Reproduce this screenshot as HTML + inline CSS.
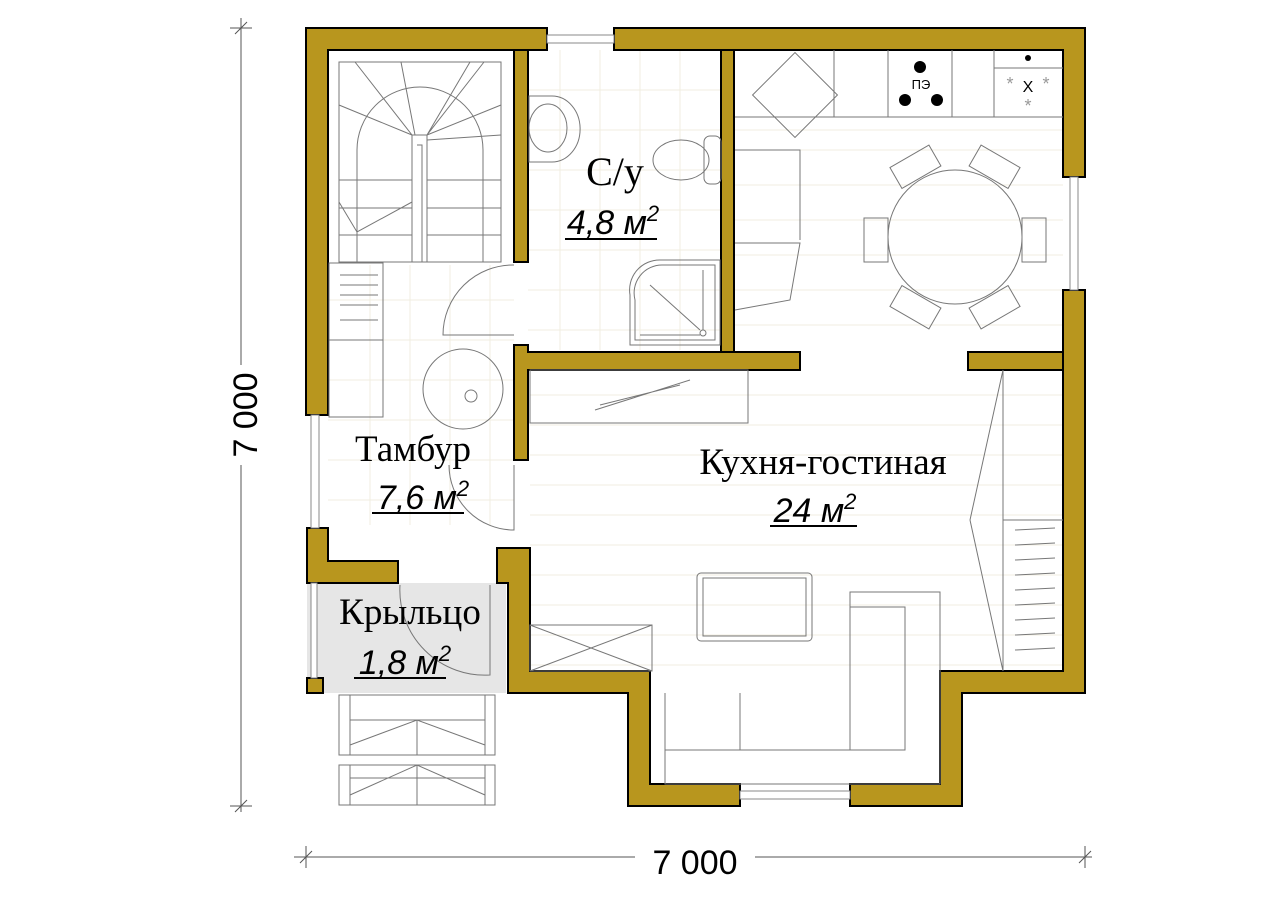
<!DOCTYPE html>
<html><head><meta charset="utf-8"><style>
html,body{margin:0;padding:0;background:#fff;}
svg{display:block}
.w{fill:#B8961E;stroke:#000;stroke-width:2}
.f{fill:none;stroke:#777;stroke-width:1}
.t{font-family:"Liberation Serif",serif;fill:#000}
.a{font-family:"Liberation Sans",sans-serif;font-style:italic;fill:#000}
</style></head><body>
<svg width="1280" height="905" viewBox="0 0 1280 905" xmlns="http://www.w3.org/2000/svg">
<rect x="328" y="50" width="735" height="305" fill="#fff"/>
<rect x="307" y="583" width="199" height="110" fill="#e6e6e6"/>
<g stroke="#f0ede0" stroke-width="1">
<path d="M735 130H1063M735 150H1063M735 185H1063M735 220H1063M735 255H1063M735 290H1063M735 325H1063"/>
<path d="M530 395H1063M530 425H1063M530 455H1063M530 485H1063M530 515H1063M530 545H1063M530 575H1063M530 605H1063M530 635H1063M530 665H1063"/>
<path d="M560 50V350M600 50V350M640 50V350M680 50V350M528 90H720M528 130H720M528 170H720M528 210H720M528 250H720M528 290H720M528 330H720"/>
<path d="M370 265V525M410 265V525M450 265V525M490 265V525M328 300H514M328 340H514M328 380H514M328 420H514M328 460H514M328 500H514"/>
</g>
<path class="w" d="M306 28H547V50H328V415H306Z"/>
<path class="w" d="M614 28H1085V177H1063V50H614Z"/>
<path class="w" d="M1063 290H1085V693H962V806H850V784H940V671H1063Z"/>
<path class="w" d="M740 784V806H628V693H508V583H497V548H530V671H650V784Z"/>
<path class="w" d="M307 528H328V561H398V583H307Z"/>
<rect class="w" x="307" y="678" width="16" height="15"/>
<rect class="w" x="514" y="50" width="14" height="212"/>
<rect class="w" x="721" y="50" width="13" height="302"/>
<path class="w" d="M514 345H528V352H800V370H528V460H514Z"/>
<rect class="w" x="968" y="352" width="95" height="18"/>
<rect x="547" y="35" width="67" height="8" fill="#fff" stroke="#888"/>
<rect x="1070" y="177" width="8" height="113" fill="#fff" stroke="#888"/>
<rect x="740" y="791" width="110" height="8" fill="#fff" stroke="#888"/>
<rect x="311" y="415" width="8" height="113" fill="#fff" stroke="#888"/>
<rect x="311" y="583" width="6" height="95" fill="#fff" stroke="#888"/>
<g class="f">
<rect x="339" y="62" width="162" height="200"/>
<path d="M357 181V150A63 63 0 0 1 483 150V262M357 150V262"/>
<path d="M412 135H427V262H412ZM417 145H422V262"/>
<path d="M339 180H412M427 180H501M339 208H412M427 208H501M339 235H412M427 235H501"/>
<path d="M355 62L412 135M401 62L415 135M470 62L427 135M484 62L427 135M339 105L412 135M501 105L427 135M501 135L427 140M339 202L357 232L412 202"/>
<rect x="329" y="263" width="54" height="154"/>
<path d="M329 340H383M340 275H378M340 285H378M340 295H378M340 305H378M340 320H378"/>
</g>
<g class="f">
<path d="M514 265A70 70 0 0 0 443 335H514"/>
<path d="M514 465V530A65 65 0 0 1 449 465"/>
<path d="M400 585A85 85 0 0 0 490 675V585"/>
<circle cx="463" cy="389" r="40"/><circle cx="471" cy="396" r="6"/>
</g>
<g class="f">
<path d="M529 96H552A23 27 0 0 1 552 162H529Z"/><ellipse cx="548" cy="128" rx="19" ry="24"/>
<ellipse cx="681" cy="160" rx="28" ry="20"/><rect x="704" y="136" width="17" height="48" rx="6"/>
<path d="M630 345V295A30 30 0 0 1 660 260H720V345Z"/><path d="M635 340V300A28 28 0 0 1 662 265H715V340Z"/>
<path d="M650 285L700 330M640 335H700M703 270V330"/><circle cx="703" cy="333" r="3"/>
</g>
<g class="f">
<path d="M735 117H1063M834 50V117M888 50V117M952 50V117M994 50V117M994 68H1063"/>
<rect x="765" y="65" width="60" height="60" transform="rotate(45 795 95)"/>
<path d="M735 150H800V240M735 243H800L790 300L735 310"/>
<circle cx="955" cy="237" r="67"/>
<rect x="864" y="218" width="24" height="44"/><rect x="1022" y="218" width="24" height="44"/>
<rect x="893" y="155" width="45" height="24" transform="rotate(-30 915 167)"/>
<rect x="972" y="155" width="45" height="24" transform="rotate(30 995 167)"/>
<rect x="893" y="295" width="45" height="24" transform="rotate(30 915 307)"/>
<rect x="972" y="295" width="45" height="24" transform="rotate(-30 995 307)"/>
<rect x="530" y="370" width="218" height="53"/>
<path d="M595 410L690 380M600 405L680 385"/>
<path d="M1003 370V671M1003 520H1063M970 520L1003 370M970 520L1003 671"/>
<path d="M1015 530L1055 528M1015 545L1055 543M1015 560L1055 558M1015 575L1055 573M1015 590L1055 588M1015 605L1055 603M1015 620L1055 618M1015 635L1055 633M1015 650L1055 648"/>
<rect x="697" y="573" width="115" height="68" rx="4"/><rect x="703" y="578" width="103" height="58"/>
<rect x="530" y="625" width="122" height="46"/><path d="M530 625L652 671M652 625L530 671"/>
<path d="M850 592H940V784H665V750H905V607H850Z"/>
<path d="M665 693V784M740 693V750M850 592V750"/>
</g>
<g fill="#000"><circle cx="920" cy="67" r="6"/><circle cx="905" cy="100" r="6"/><circle cx="937" cy="100" r="6"/><circle cx="1028" cy="58" r="3"/></g>
<text x="921" y="89" font-family="Liberation Sans,sans-serif" font-size="13" text-anchor="middle">ПЭ</text>
<text x="1028" y="92" font-family="Liberation Sans,sans-serif" font-size="16" text-anchor="middle">X</text>
<text x="1028" y="112" font-family="Liberation Sans,sans-serif" font-size="18" fill="#999" text-anchor="middle">*</text>
<text x="1010" y="90" font-family="Liberation Sans,sans-serif" font-size="18" fill="#999" text-anchor="middle">*</text>
<text x="1046" y="90" font-family="Liberation Sans,sans-serif" font-size="18" fill="#999" text-anchor="middle">*</text>
<g class="f">
<rect x="339" y="695" width="156" height="60"/><path d="M350 695V755M485 695V755M350 720H485M350 745L417 720L485 745M417 720V755"/>
<rect x="339" y="765" width="156" height="40"/><path d="M350 765V805M485 765V805M350 778H485M350 795L417 765L485 795M417 765V805"/>
</g>
<text class="t" x="615" y="185" font-size="40" text-anchor="middle">С/у</text>
<text class="a" x="613" y="234" font-size="34" text-anchor="middle">4,8 м<tspan font-size="22" dy="-13">2</tspan></text>
<rect x="565" y="238" width="92" height="2"/>
<text class="t" x="413" y="461" font-size="37" text-anchor="middle">Тамбур</text>
<text class="a" x="423" y="509" font-size="34" text-anchor="middle">7,6 м<tspan font-size="22" dy="-13">2</tspan></text>
<rect x="372" y="512" width="92" height="2"/>
<text class="t" x="823" y="474" font-size="37" text-anchor="middle">Кухня-гостиная</text>
<text class="a" x="815" y="522" font-size="34" text-anchor="middle">24 м<tspan font-size="22" dy="-13">2</tspan></text>
<rect x="770" y="525" width="87" height="2"/>
<text class="t" x="410" y="624" font-size="37" text-anchor="middle">Крыльцо</text>
<text class="a" x="405" y="674" font-size="34" text-anchor="middle">1,8 м<tspan font-size="22" dy="-13">2</tspan></text>
<rect x="354" y="677" width="92" height="2"/>
<g stroke="#555" stroke-width="1">
<path d="M241 18V812M230 28H252M230 806H252M235 34L247 22M235 812L247 800"/>
<path d="M294 857H1092M306 846V868M1085 846V868M300 863L312 851M1079 863L1091 851"/>
</g>
<rect x="225" y="365" width="34" height="100" fill="#fff"/>
<text x="257" y="415" font-family="Liberation Sans,sans-serif" font-size="34" text-anchor="middle" transform="rotate(-90 257 415)">7 000</text>
<rect x="635" y="842" width="120" height="30" fill="#fff"/>
<text x="695" y="874" font-family="Liberation Sans,sans-serif" font-size="34" text-anchor="middle">7 000</text>
</svg>
</body></html>
